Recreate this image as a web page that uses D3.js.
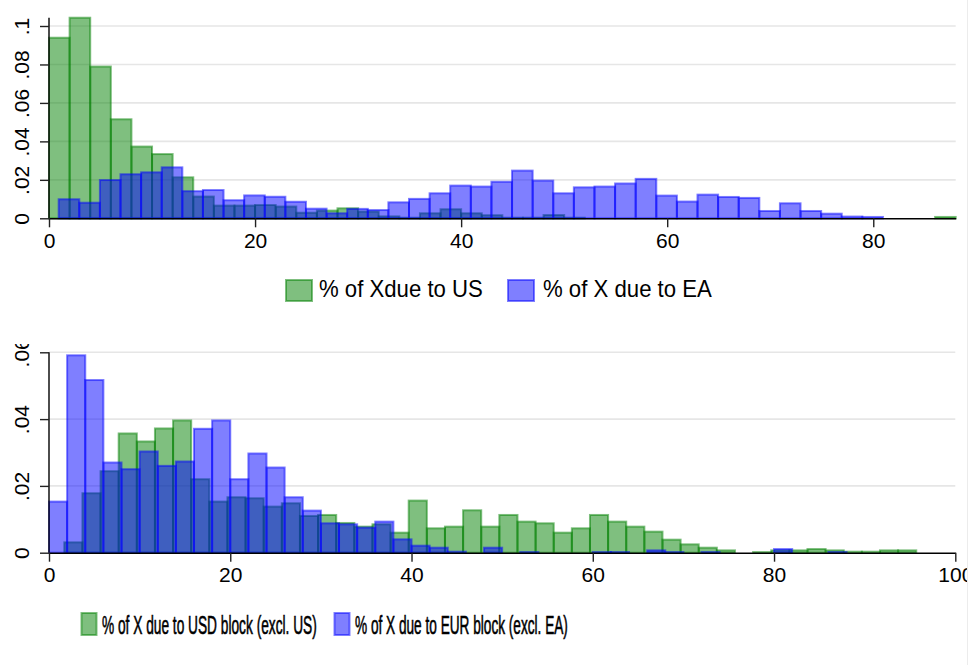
<!DOCTYPE html>
<html>
<head>
<meta charset="utf-8">
<script src="https://cdn.jsdelivr.net/npm/d3@7/dist/d3.min.js"></script>
<style>
  body { margin: 0; background: #fff; }
  svg { display: block; }
  text { font-family: "Liberation Sans", Arial, Helvetica, sans-serif; fill: #000; }
</style>
</head>
<body>
<svg id="chart" width="971" height="665"></svg>
<script>
// Histogram densities, bins two percentage points wide
const binWidth = 2;

// Upper panel: share of exports due to the US / to the euro area
const usOrigin = 0;
const usDensity = [0.0939, 0.1043, 0.0789, 0.0515, 0.0373, 0.0334, 0.0213, 0.0113, 0.0066, 0.0066,
  0.0069, 0.0061, 0.0029, 0.0040, 0.0052, 0.0035, 0.0010, 0.0003, 0.0026, 0.0047,
  0.0026, 0.0016, 0.0003, 0.0003, 0.0017, 0.0003, 0, 0, 0, 0,
  0, 0, 0, 0, 0, 0, 0, 0, 0, 0,
  0, 0, 0, 0.0007];
const eaOrigin = 0.94;
const eaDensity = [0.0099, 0.0081, 0.0199, 0.0229, 0.0239, 0.0265, 0.0141, 0.0147, 0.0094, 0.0119,
  0.0112, 0.0086, 0.0050, 0.0026, 0.0049, 0.0043, 0.0083, 0.0101, 0.0130, 0.0170,
  0.0165, 0.0190, 0.0248, 0.0196, 0.0130, 0.0161, 0.0165, 0.0181, 0.0205, 0.0118,
  0.0087, 0.0123, 0.0111, 0.0106, 0.0038, 0.0078, 0.0038, 0.0024, 0.0009, 0.0007];

// Lower panel: share due to the USD block / EUR block, excluding the anchors
const usdBlockOrigin = 1.69;
const usdBlockDensity = [0.0031, 0.0178, 0.0244, 0.0357, 0.0333, 0.0372, 0.0396, 0.0220, 0.0153, 0.0166,
  0.0163, 0.0138, 0.0148, 0.0110, 0.0113, 0.0089, 0.0078, 0.0085, 0.0060, 0.0156,
  0.0073, 0.0078, 0.0127, 0.0078, 0.0113, 0.0093, 0.0088, 0.0060, 0.0073, 0.0113,
  0.0093, 0.0078, 0.0063, 0.0039, 0.0025, 0.0015, 0.0007, 0, 0.0002, 0.0007,
  0.0007, 0.0011, 0.0007, 0.0003, 0.0003, 0.0007, 0.0007];
const eurBlockOrigin = 0;
const eurBlockDensity = [0.0153, 0.0591, 0.0517, 0.0270, 0.0250, 0.0303, 0.0260, 0.0273, 0.0371, 0.0396,
  0.0220, 0.0297, 0.0255, 0.0166, 0.0126, 0.0088, 0.0085, 0.0075, 0.0093, 0.0040,
  0.0021, 0.0015, 0.0003, 0, 0.0015, 0, 0.0002, 0, 0, 0,
  0.0002, 0.0002, 0, 0.0007, 0.0002, 0, 0.0002, 0, 0, 0,
  0.0011, 0, 0, 0.0002];

// Axis ticks and labels
const topXTicks = [0, 20, 40, 60, 80];
const topYTicks = [0, 0.02, 0.04, 0.06, 0.08, 0.1];
const topYLabels = ["0", ".02", ".04", ".06", ".08", ".1"];
const bottomXTicks = [0, 20, 40, 60, 80, 100];
const bottomYTicks = [0, 0.02, 0.04, 0.06];
const bottomYLabels = ["0", ".02", ".04", ".06"];

// Legend entries
const topLegend = ["% of Xdue to US", "% of X due to EA"];
const bottomLegend = ["% of X due to USD block (excl. US)", "% of X due to EUR block (excl. EA)"];

const GREEN = "#008000";
const BLUE = "#0000ff";

const svg = d3.select("#chart");
const defs = svg.append("defs");

function toBins(origin, density) {
  return density.map((d, i) => ({ x0: origin + i * binWidth, x1: origin + (i + 1) * binWidth, d }))
    .filter(b => b.d > 0);
}

function drawPanel(cfg) {
  const g = svg.append("g");
  const id = "clip-" + cfg.name;
  defs.append("clipPath").attr("id", id)
    .append("rect").attr("x", 0).attr("y", cfg.clipTop)
    .attr("width", cfg.clipRight).attr("height", cfg.clipBottom - cfg.clipTop);
  g.attr("clip-path", `url(#${id})`);

  const x = d3.scaleLinear().domain(cfg.xDomain).range([cfg.left, cfg.right]);
  const y = d3.scaleLinear().domain([0, cfg.yRef]).range([cfg.bottom, cfg.yRefPx]);

  // horizontal grid
  g.append("g").selectAll("line").data(cfg.yTicks.filter(t => t > 0)).join("line")
    .attr("x1", cfg.left).attr("x2", cfg.right)
    .attr("y1", d => y(d)).attr("y2", d => y(d))
    .attr("stroke", "#e6e6e6").attr("stroke-width", 1.6);

  // bars: first series underneath, second on top
  cfg.series.forEach(s => {
    g.append("g").selectAll("rect").data(toBins(s.origin, s.density)).join("rect")
      .attr("x", b => x(b.x0)).attr("width", b => x(b.x1) - x(b.x0))
      .attr("y", b => y(b.d)).attr("height", b => y(0) - y(b.d))
      .attr("fill", s.color).attr("fill-opacity", 0.5)
      .attr("stroke", s.color).attr("stroke-opacity", 0.5).attr("stroke-width", 2);
  });

  const yTop = y(cfg.yAxisMax);

  // x axis
  const xa = g.append("g").attr("transform", `translate(0,${cfg.bottom})`)
    .call(d3.axisBottom(x).tickValues(cfg.xTicks).tickFormat(d3.format("d")).tickSize(9).tickSizeOuter(0));
  xa.select(".domain").attr("stroke", "#000").attr("stroke-width", 1.4);
  xa.selectAll(".tick line").attr("stroke", "#222").attr("stroke-width", 1.4);
  xa.selectAll(".tick text").attr("font-size", 21).attr("dy", null).attr("y", 29.5)
    .attr("font-family", "'Liberation Sans', Arial, sans-serif");

  // y axis with rotated labels
  const ya = g.append("g").attr("transform", `translate(${cfg.left},0)`)
    .call(d3.axisLeft(y).tickValues(cfg.yTicks).tickFormat((d, i) => cfg.yLabels[i]).tickSize(9).tickSizeOuter(0));
  ya.select(".domain").attr("d", `M0,${cfg.bottom}V${yTop}`).attr("stroke", "#000").attr("stroke-width", 1.4);
  ya.selectAll(".tick line").attr("stroke", "#222").attr("stroke-width", 1.4);
  ya.selectAll(".tick text")
    .attr("font-size", 21).attr("font-family", "'Liberation Sans', Arial, sans-serif")
    .attr("x", null).attr("dy", null).attr("text-anchor", "middle")
    .attr("transform", "translate(-20,0) rotate(-90)");

  // legend: key boxes and horizontally condensed labels
  cfg.legend.forEach((item, i) => {
    const s = cfg.series[i];
    const l = item.layout;
    g.append("rect").attr("x", l.bx).attr("y", cfg.legendY).attr("width", l.bw).attr("height", cfg.legendH)
      .attr("fill", s.color).attr("fill-opacity", 0.5)
      .attr("stroke", s.color).attr("stroke-opacity", 0.5).attr("stroke-width", 2);
    const t = g.append("text").attr("x", 0).attr("y", 0)
      .attr("font-size", cfg.legendFont).text(item.label);
    if (cfg.legendWeight) t.attr("stroke", "#000").attr("stroke-width", cfg.legendWeight);
    const natural = t.node().getComputedTextLength();
    t.attr("transform", `translate(${l.tx},${cfg.legendBase}) scale(${l.tw / natural},1)`);
  });
}

drawPanel({
  name: "top", clipTop: 0, clipBottom: 330, clipRight: 967,
  xDomain: [0, 88], left: 49, right: 955.7,
  bottom: 218.3, yRef: 0.1, yRefPx: 26,
  yAxisMax: d3.max(usDensity.concat(eaDensity)),
  xTicks: topXTicks, yTicks: topYTicks, yLabels: topYLabels,
  series: [
    { origin: usOrigin, density: usDensity, color: GREEN },
    { origin: eaOrigin, density: eaDensity, color: BLUE }
  ],
  legendY: 280, legendH: 21, legendBase: 297, legendFont: 23,
  legend: [
    { label: topLegend[0], layout: { bx: 286, bw: 26, tx: 319, tw: 164 } },
    { label: topLegend[1], layout: { bx: 508, bw: 26, tx: 543, tw: 169 } }
  ]
});

drawPanel({
  name: "bottom", clipTop: 344, clipBottom: 665, clipRight: 967,
  xDomain: [0, 100], left: 49, right: 955.3,
  bottom: 552.7, yRef: 0.06, yRefPx: 352.3,
  yAxisMax: 0.06,
  xTicks: bottomXTicks, yTicks: bottomYTicks, yLabels: bottomYLabels,
  series: [
    { origin: usdBlockOrigin, density: usdBlockDensity, color: GREEN },
    { origin: eurBlockOrigin, density: eurBlockDensity, color: BLUE }
  ],
  legendY: 613, legendH: 22, legendBase: 634, legendFont: 26, legendWeight: 0.6,
  legend: [
    { label: bottomLegend[0], layout: { bx: 81.5, bw: 15, tx: 102, tw: 215 } },
    { label: bottomLegend[1], layout: { bx: 334.5, bw: 15, tx: 355, tw: 213 } }
  ]
});

// faint right border of the graph region
svg.append("line").attr("x1", 967.5).attr("x2", 967.5).attr("y1", 0).attr("y2", 665)
  .attr("stroke", "#ececec").attr("stroke-width", 1);
</script>
</body>
</html>
